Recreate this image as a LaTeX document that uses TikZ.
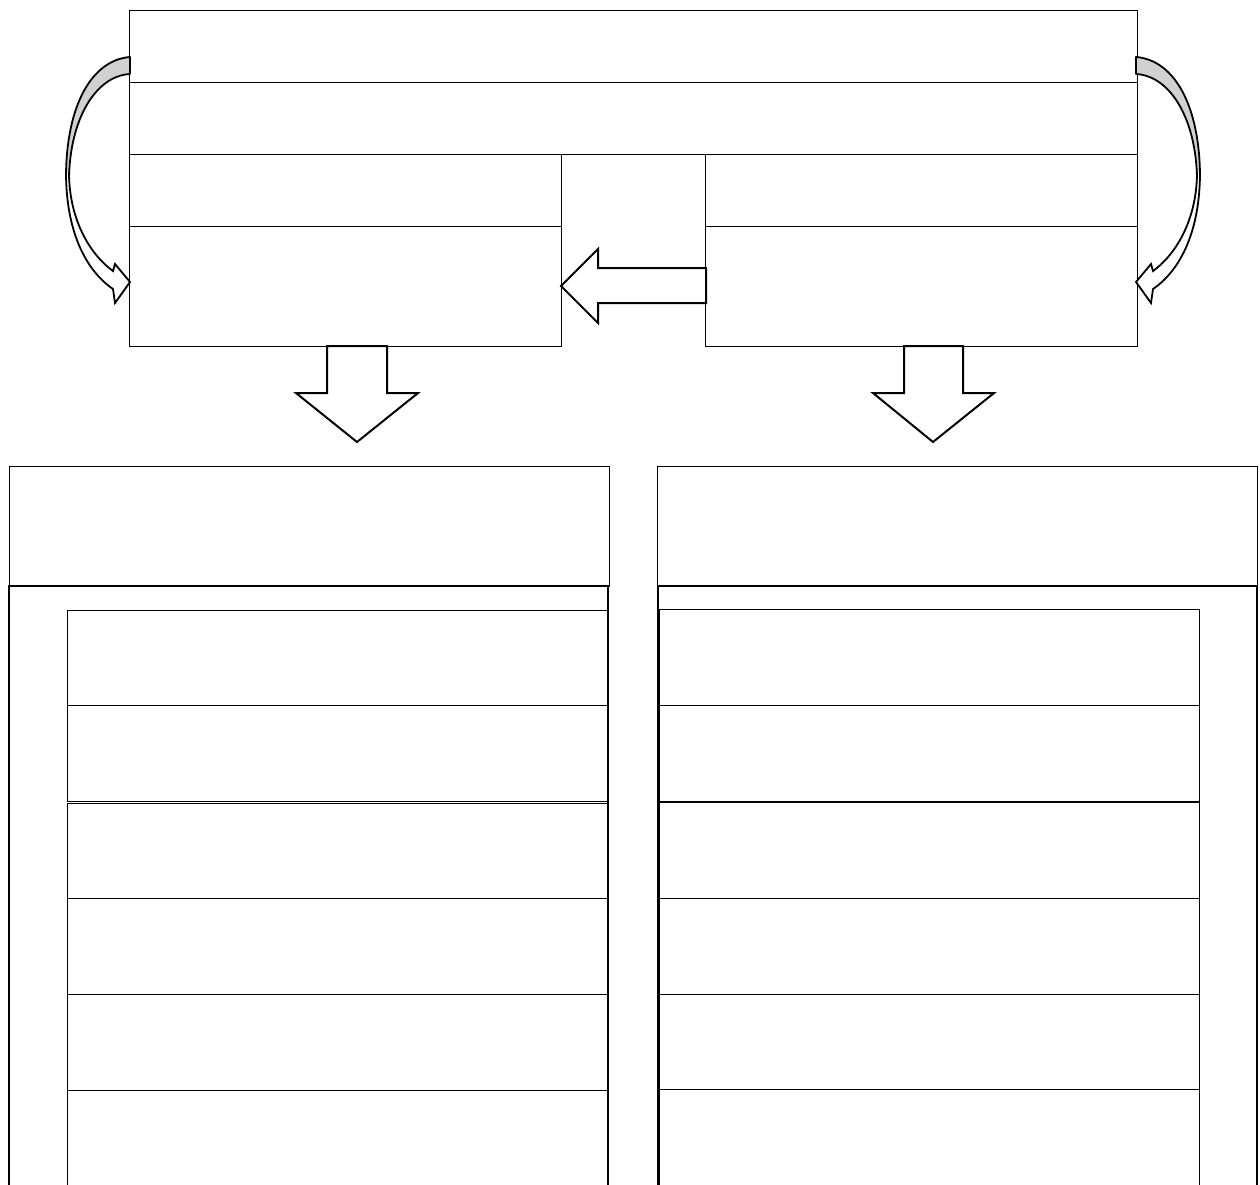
\documentclass[tikz,border=0pt]{standalone}
\begin{document}
\begin{tikzpicture}[x=1pt,y=-1pt,
  thinbox/.style={draw=black,line width=1pt},
  thickbox/.style={draw=black,line width=2.4pt},
  blockarrow/.style={draw=black,line width=2pt,fill=white,line join=miter},
  shade/.style={draw=black,line width=1.8pt,fill=black!18},
  front/.style={draw=black,line width=1.8pt,fill=white}]
\useasboundingbox (0,0) rectangle (1260,1184);
\fill[white] (0,0) rectangle (1260,1184);
\begin{scope}
\clip (0,0) rectangle (1260,1184);
% top boxes
\draw[thinbox] (129,10) rectangle (1137,82);
\draw[thinbox] (129,82) rectangle (1137,154);
\draw[thinbox] (129,154) rectangle (561,226);
\draw[thinbox] (129,226) rectangle (561,346);
\draw[thinbox] (705,154) rectangle (1137,226);
\draw[thinbox] (705,226) rectangle (1137,346);
% left block arrow
\draw[blockarrow] (706,268) -- (598,268) -- (598,249) -- (561,286) -- (598,323) -- (598,303) -- (706,303) -- cycle;
% down arrows
\draw[blockarrow] (327,346) -- (387,346) -- (387,393) -- (418,393) -- (357,442) -- (296,393) -- (327,393) -- cycle;
\draw[blockarrow] (904,346) -- (963,346) -- (963,393) -- (994,393) -- (933,442) -- (873,393) -- (904,393) -- cycle;
% curved arrows
\foreach \s/\o in {1/0,-1/1266}{
\begin{scope}[xshift=\o pt, xscale=\s]
\draw[shade,line join=round] (130,57) .. controls (92,60) and (66,105) .. (66,178)
   -- (69,178) .. controls (70,120) and (95,76) .. (130,74) -- cycle;
\draw[front,line join=miter] (66,172) .. controls (66,235) and (88,272) .. (113,289)
   -- (115,303) -- (130,282) -- (115,264) -- (113,271)
   .. controls (92,256) and (69,222) .. (69,172);
\end{scope}}
% bottom left panel
\draw[thinbox] (9,466) rectangle (609,586);
\foreach \a/\b in {610/705,705/801,803/898,898/994,994/1090,1090/1200}
  \draw[thinbox] (67,\a) rectangle (607,\b);
\draw[thickbox] (9,1200) -- (9,586) -- (608,586) -- (608,1200);
% bottom right panel
\draw[thinbox] (657,466) rectangle (1257,586);
\foreach \a/\b in {609/705,705/801,802/898,898/994,994/1089,1089/1200}
  \draw[thinbox] (659,\a) rectangle (1199,\b);
\draw[thickbox] (658,1200) -- (658,586) -- (1257,586) -- (1257,1200);
\end{scope}
\end{tikzpicture}
\end{document}
